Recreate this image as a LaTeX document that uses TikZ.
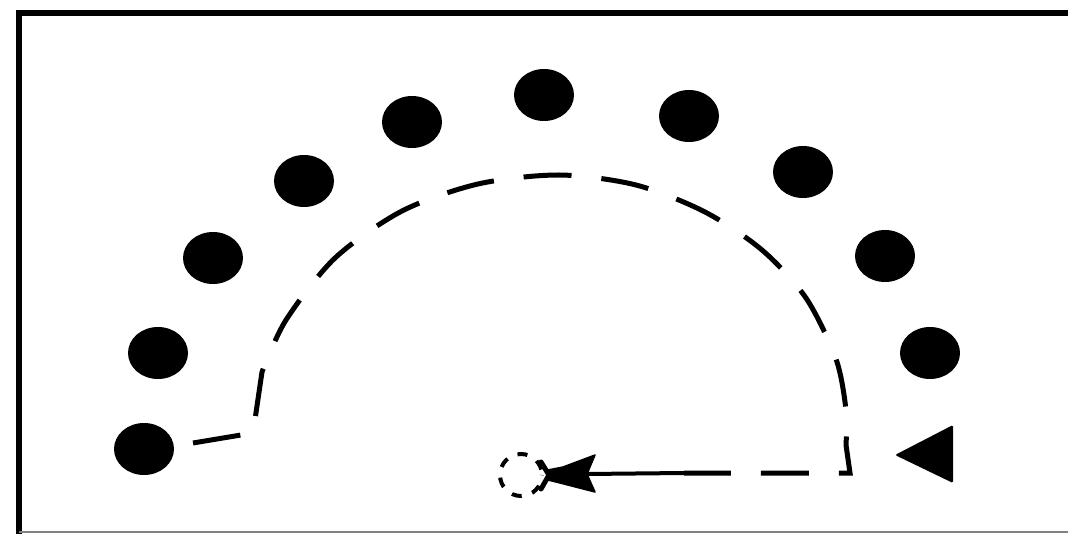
\documentclass[tikz,border=0pt]{standalone}
\usetikzlibrary{shapes.geometric,arrows.meta}
\begin{document}
\begin{tikzpicture}[x=1pt,y=-1pt,
  dot/.style={ellipse,fill=black,draw=none,minimum width=60pt,minimum height=52pt,inner sep=0pt},
  route/.style={line width=5pt,dash pattern=on 48pt off 30pt},
  frameline/.style={line width=6pt},
  head/.style={fill=black,draw=black,line width=1.5pt,line join=round},
  marker/.style={circle,draw=black,line width=4pt,dash pattern=on 10pt off 11pt,dash phase=15.5pt,minimum size=42pt,inner sep=0pt}]
\useasboundingbox (0,0) rectangle (1068,534);
% frame
\draw[frameline] (1068,13) -- (19,13) -- (19,534);
\draw[gray,line width=1.5pt] (19,532) -- (1068,532);
% players
\node[dot] (d1) at (144,449) {};
\node[dot] (d2) at (158,353) {};
\node[dot] (d3) at (213,258) {};
\node[dot] (d4) at (304,181) {};
\node[dot] (d5) at (412,122) {};
\node[dot] (d6) at (544,95) {};
\node[dot] (d7) at (689,116) {};
\node[dot] (d8) at (803,172) {};
\node[dot] (d9) at (885,256) {};
\node[dot] (d10) at (930,353) {};
% triangle
\fill[rounded corners=1.5pt] (895,455) -- (953,425) -- (953,483) -- cycle;
% target circle
\node[marker] (c) at (521,475) {};
% route
\coordinate (s) at (193,443);
\coordinate (k1) at (253,433);
\coordinate (k2) at (262,372);
\coordinate (k3) at (846,445);
\coordinate (k4) at (850,473);
\coordinate (m) at (684,473);
\coordinate (n) at (587,474);
\coordinate (t) at (549,475);
\draw[route] (s) -- (k1) -- (k2) -- plot[smooth] coordinates {(k2) (286,320) (335,258) (402,211) (478,184) (559,175) (636,185) (705,212) (762,250) (806,298) (836,359) (846,410) (k3)} -- (k4) -- (m);
\draw[line width=4pt] (m) -- (n);
\filldraw[head] (548,470) -- (563,467) -- (595,455) -- (n) -- (595,492) -- (560,483) -- (548,480) -- cycle;
\draw[line width=5pt,line cap=round] (t) -- (541,462) (t) -- (541,489);
\end{tikzpicture}
\end{document}
